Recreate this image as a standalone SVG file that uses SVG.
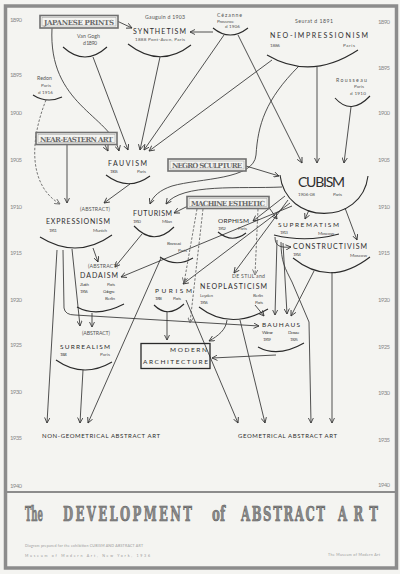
<svg xmlns="http://www.w3.org/2000/svg" width="400" height="574" viewBox="0 0 400 574">
<defs>
<marker id="a" viewBox="0 0 10 10" refX="9" refY="5" markerWidth="6" markerHeight="6" markerUnits="userSpaceOnUse" orient="auto"><path d="M0,0.5 L9,5 L0,9.5" fill="none" stroke="#333" stroke-width="1.4"/></marker>
<marker id="g" viewBox="0 0 10 10" refX="9" refY="5" markerWidth="6" markerHeight="6" markerUnits="userSpaceOnUse" orient="auto"><path d="M0,0.5 L9,5 L0,9.5" fill="none" stroke="#666" stroke-width="1.4"/></marker>
<style>
.bg{fill:#f4f4f1}
.frame{fill:none;stroke:#8c8c8c;stroke-width:3.5}
.yr{font-family:Lato,"Liberation Sans",sans-serif;font-size:6px;fill:#8a8a8a}
.n{font-family:Lato,"Liberation Sans",sans-serif;font-size:7px;fill:#2e2e2e}
.s{font-family:Lato,"Liberation Sans",sans-serif;font-size:4.6px;fill:#555}
.p{font-family:Lato,"Liberation Sans",sans-serif;font-size:5.2px;fill:#555}
.bx{fill:#f4f4f1;stroke:#707070;stroke-width:1.6}
.bi{fill:none;stroke:#9a9a9a;stroke-width:0.5}
.bt{font-family:"DejaVu Serif","Liberation Serif",serif;font-size:7px;fill:#6a6a6a;font-weight:bold}
.arc{fill:none;stroke:#2a2a2a;stroke-width:1.1}
.c{fill:none;stroke:#333;stroke-width:0.85;marker-end:url(#a)}
.d{fill:none;stroke:#555;stroke-width:0.8;stroke-dasharray:2.5,1.6;marker-end:url(#g)}
.t{font-family:"DejaVu Serif Condensed","DejaVu Serif","Liberation Serif",serif;font-size:13px;fill:#8a8a8a;stroke:#555;stroke-width:0.35;font-weight:bold}
.f{font-family:Lato,"Liberation Sans",sans-serif;font-size:3.6px;fill:#9a9a9a}
</style>
</defs>
<rect class="bg" x="0" y="0" width="400" height="574"/>
<rect class="frame" x="5.5" y="6" width="391" height="562"/>
<line x1="7" y1="492" x2="395" y2="492" stroke="#8c8c8c" stroke-width="2.2"/>

<g id="years">
<text class="yr" x="10" y="22" textLength="12">1890</text>
<text class="yr" x="10" y="77" textLength="12">1895</text>
<text class="yr" x="10" y="115" textLength="12">1900</text>
<text class="yr" x="10" y="162" textLength="12">1905</text>
<text class="yr" x="10" y="209" textLength="12">1910</text>
<text class="yr" x="10" y="255" textLength="12">1915</text>
<text class="yr" x="10" y="302" textLength="12">1920</text>
<text class="yr" x="10" y="347" textLength="12">1925</text>
<text class="yr" x="10" y="394" textLength="12">1930</text>
<text class="yr" x="10" y="440" textLength="12">1935</text>
<text class="yr" x="10" y="488" textLength="12">1940</text>
<text class="yr" x="378" y="24" textLength="12">1890</text>
<text class="yr" x="378" y="70" textLength="12">1895</text>
<text class="yr" x="378" y="115" textLength="12">1900</text>
<text class="yr" x="378" y="162" textLength="12">1905</text>
<text class="yr" x="378" y="209" textLength="12">1910</text>
<text class="yr" x="378" y="255" textLength="12">1915</text>
<text class="yr" x="378" y="302" textLength="12">1920</text>
<text class="yr" x="378" y="349" textLength="12">1925</text>
<text class="yr" x="378" y="395" textLength="12">1930</text>
<text class="yr" x="378" y="442" textLength="12">1935</text>
<text class="yr" x="378" y="487" textLength="12">1940</text>
</g>

<g id="connectors">
<path class="c" d="M117,21 L132,28"/>
<path class="c" d="M52,28 C48,105 110,115 119,151"/>
<path class="c" d="M93,57 L128,150"/>
<path class="c" d="M160,57 L140,150"/>
<path class="c" d="M213,32 L190,32"/>
<path class="c" d="M224,35 L144,150"/>
<path class="c" d="M238,35 L302,163"/>
<path class="c" d="M272,60 L149,151"/>
<path class="c" d="M299,66 C265,100 258,125 256,155 C254,180 200,178 172,186 C160,190 153,196 150,204"/>
<path class="c" d="M317,67 L317,163"/>
<path class="c" d="M351,107 L344,163"/>
<path class="d" d="M46,100 C30,140 28,185 60,204"/>
<path class="c" d="M67,145 L67,203"/>
<path class="c" d="M105,145 L108,151"/>
<path class="c" d="M246,166 L279,176"/>
<path class="c" d="M130,184 L104,203"/>
<path class="c" d="M282,187 C240,189 182,183 166,204"/>
<path class="c" d="M188,206 L174,213"/>
<path class="c" d="M93,248 L98,262"/>
<path class="c" d="M57,250 L47,423"/>
<path class="c" d="M63,250 L64,308 Q65,315 75,315 L259,326"/>
<path class="c" d="M72,249 L80,326"/>
<path class="c" d="M92,313 L92,327"/>
<path class="c" d="M83,370 L80,423"/>
<path class="c" d="M161,258 L88,423"/>
<path class="c" d="M186,300 L238,423"/>
<path class="c" d="M142,234 L115,267"/>
<path class="c" d="M292,206 L121,277"/>
<path class="c" d="M290,203 L183,284"/>
<path class="c" d="M288,200 L234,273"/>
<path class="c" d="M285,196 L253,221"/>
<path class="d" d="M197,209 L184,283"/>
<path class="d" d="M203,209 L190,323"/>
<path class="d" d="M258,209 L255,275"/>
<path class="c" d="M268,206 L277,219"/>
<path class="c" d="M309,210 L305,219"/>
<path class="c" d="M345,208 L357,240"/>
<path class="c" d="M275,237 C275,246 280,248 291,247"/>
<path class="c" d="M277,240 L275,315"/>
<path class="c" d="M283,243 L287,314"/>
<path class="c" d="M314,271 L291,316"/>
<path class="c" d="M281,242 C281,262 285,268 292,282 L309,322 L311,423"/>
<path class="c" d="M332,272 L332,423"/>
<path class="c" d="M255,305 L264,316"/>
<path class="c" d="M227,320 C226,330 218,336 209,341"/>
<path class="c" d="M240,320 L265,423"/>
<path class="c" d="M276,355 L212,358"/>
<path class="c" d="M167,312 L167,340"/>
</g>

<g id="japanese-prints"><rect class="bx" x="40" y="15.5" width="78" height="12.5"/><rect class="bi" x="42" y="17.5" width="74" height="8.5"/><text class="bt" x="44" y="25" textLength="70">JAPANESE PRINTS</text></g>
<g id="near-eastern-art"><rect class="bx" x="36" y="132.5" width="81" height="12"/><rect class="bi" x="38" y="134.5" width="77" height="8"/><text class="bt" x="40" y="141.8" textLength="73">NEAR-EASTERN ART</text></g>
<g id="negro-sculpture"><rect class="bx" x="168" y="159" width="78" height="12"/><rect class="bi" x="170" y="161" width="74" height="8"/><text class="bt" x="172" y="168.3" textLength="70">NEGRO SCULPTURE</text></g>
<g id="machine-esthetic"><rect class="bx" x="187" y="196.5" width="82" height="12"/><rect class="bi" x="189" y="198.5" width="78" height="8"/><text class="bt" x="191" y="205.8" textLength="74">MACHINE ESTHETIC</text></g>

<g id="van-gogh"><text class="p" x="77" y="38" textLength="23">Van Gogh</text><text class="p" x="83" y="44.5" textLength="14">d 1890</text><path class="arc" d="M63,47 Q85,67 107,47"/></g>
<g id="synthetism"><text class="p" x="145" y="19" textLength="40">Gauguin d 1903</text><text class="n" x="133" y="34" textLength="53">SYNTHETISM</text><text class="s" x="135" y="41" textLength="50">1888  Pont-Aven, Paris</text><path class="arc" d="M128,44 Q160,69 191,45"/></g>
<g id="cezanne"><text class="p" x="217" y="17" textLength="25">Cézanne</text><text class="s" x="217" y="22.5" textLength="17">Provence</text><text class="s" x="225" y="28" textLength="15">d 1906</text><path class="arc" d="M213,28 Q230,42 248,28"/></g>
<g id="neo-impressionism"><text class="p" x="295" y="23" textLength="38">Seurat d 1891</text><text class="n" x="270" y="38" textLength="98">NEO-IMPRESSIONISM</text><text class="s" x="270" y="47" textLength="10">1886</text><text class="s" x="343" y="47" textLength="12">Paris</text><path class="arc" d="M267,55 Q311,81 358,50"/></g>
<g id="rousseau"><text class="p" x="336" y="82" textLength="31">Rousseau</text><text class="s" x="354" y="88" textLength="10">Paris</text><text class="s" x="350" y="95" textLength="16">d 1910</text><path class="arc" d="M335,98 Q351,116 370,96"/></g>
<g id="redon"><text class="p" x="37" y="80" textLength="15">Redon</text><text class="s" x="41" y="87" textLength="10">Paris</text><text class="s" x="38" y="94" textLength="15">d 1916</text><path class="arc" d="M33,95 Q47,104 62,97"/></g>
<g id="fauvism"><text class="n" x="108" y="166" textLength="39">FAUVISM</text><text class="s" x="110" y="173" textLength="8">1905</text><text class="s" x="137" y="173" textLength="9">Paris</text><path class="arc" d="M106,175 Q128,192 150,176"/></g>
<g id="cubism"><text class="n" x="298" y="187" textLength="47" style="font-size:14px">CUBISM</text><text class="s" x="298" y="196" textLength="17">1906-08</text><text class="s" x="333" y="196" textLength="9">Paris</text><path class="arc" d="M280,175 C286,226 362,226 368,176"/></g>
<g id="expressionism"><text class="p" x="80" y="211" textLength="30">(ABSTRACT)</text><text class="n" x="46" y="224" textLength="64">EXPRESSIONISM</text><text class="s" x="49" y="232" textLength="8">1911</text><text class="s" x="93" y="232" textLength="14">Munich</text><path class="arc" d="M40,237 Q77,260 112,235"/></g>
<g id="futurism"><text class="n" x="133" y="216" textLength="39">FUTURISM</text><text class="s" x="133" y="223" textLength="8">1910</text><text class="s" x="162" y="223" textLength="10">Milan</text><path class="arc" d="M134,226 Q154,247 174,227"/></g>
<g id="orphism"><text class="n" x="218" y="223" textLength="31" style="font-size:6.5px">ORPHISM</text><text class="s" x="218" y="230" textLength="8">1912</text><text class="s" x="238" y="230" textLength="9">Paris</text><path class="arc" d="M218,232 Q232,244 246,233"/></g>
<g id="suprematism"><text class="n" x="278" y="227" textLength="61" style="font-size:6.5px">SUPREMATISM</text><text class="s" x="280" y="234" textLength="8">1913</text><text class="s" x="318" y="235" textLength="16">Moscow</text><path class="arc" d="M274,235 Q306,243 339,234"/></g>
<g id="constructivism"><text class="n" x="293" y="249" textLength="74">CONSTRUCTIVISM</text><text class="s" x="293" y="256" textLength="8">1914</text><text class="s" x="350" y="256.5" textLength="17">Moscow</text><path class="arc" d="M293,258 Q330,288 370,257"/></g>
<g id="brancusi"><text class="s" x="167" y="245" textLength="14">Brancusi</text><text class="s" x="178" y="252" textLength="9">Paris</text><path class="arc" d="M160,257 Q176,268 193,258"/></g>
<g id="dadaism"><text class="p" x="88" y="268" textLength="30">(ABSTRACT)</text><text class="n" x="80" y="278" textLength="38">DADAISM</text><text class="s" x="80" y="286" textLength="9">Zurich</text><text class="s" x="80" y="293" textLength="8">1916</text><text class="s" x="107" y="286" textLength="8">Paris</text><text class="s" x="103" y="293" textLength="12">Cologne</text><text class="s" x="105" y="300" textLength="10">Berlin</text><path class="arc" d="M77,307 Q97,318 124,304"/></g>
<g id="purism"><text class="n" x="155" y="293" textLength="37" style="font-size:6.5px">PURISM</text><text class="s" x="155" y="300" textLength="7">1918</text><text class="s" x="173" y="300" textLength="8">Paris</text><path class="arc" d="M154,305 Q168,319 184,304"/></g>
<g id="de-stijl"><text class="p" x="232" y="278" textLength="33">DE STIJL and</text><text class="n" x="200" y="289" textLength="67">NEOPLASTICISM</text><text class="s" x="200" y="297" textLength="13">Leyden</text><text class="s" x="200" y="304" textLength="8">1916</text><text class="s" x="253" y="297" textLength="10">Berlin</text><text class="s" x="255" y="304" textLength="8">Paris</text><path class="arc" d="M199,307 Q230,331 268,309"/></g>
<g id="bauhaus"><text class="n" x="262" y="327" textLength="38" style="font-size:6.5px">BAUHAUS</text><text class="s" x="262" y="334" textLength="11">Weimar</text><text class="s" x="263" y="341" textLength="8">1919</text><text class="s" x="288" y="334" textLength="11">Dessau</text><text class="s" x="290" y="341" textLength="8">1925</text><path class="arc" d="M258,347 Q278,358 304,343"/></g>
<g id="modern-architecture"><rect x="141" y="343.5" width="69" height="25" fill="none" stroke="#2a2a2a" stroke-width="1.3"/><text class="n" x="170" y="352" textLength="37" style="font-size:6.5px">MODERN</text><text class="n" x="143" y="364" textLength="65" style="font-size:6.5px">ARCHITECTURE</text></g>
<g id="surrealism"><text class="p" x="82" y="335" textLength="28">(ABSTRACT)</text><text class="n" x="60" y="349" textLength="50" style="font-size:6.5px">SURREALISM</text><text class="s" x="60" y="356" textLength="7">1924</text><text class="s" x="100" y="356" textLength="10">Paris</text><path class="arc" d="M56,360 Q83,379 112,362"/></g>
<g id="non-geometrical"><text class="n" x="42" y="438" textLength="118" style="font-size:6px">NON-GEOMETRICAL ABSTRACT ART</text></g>
<g id="geometrical"><text class="n" x="238" y="438" textLength="99" style="font-size:6px">GEOMETRICAL ABSTRACT ART</text></g>

<g id="title">
<g transform="translate(0,521) scale(1,1.5)">
<text class="t" x="25" y="0" textLength="18" lengthAdjust="spacingAndGlyphs">The</text>
<text class="t" x="63" y="0" textLength="129">DEVELOPMENT</text>
<text class="t" x="212" y="0" textLength="13" lengthAdjust="spacingAndGlyphs">of</text>
<text class="t" x="241" y="0" textLength="84">ABSTRACT</text>
<text class="t" x="338" y="0" textLength="40">ART</text>
</g>
<text class="f" x="25" y="547" textLength="118">Diagram prepared for the exhibition CUBISM AND ABSTRACT ART</text>
<text class="f" x="25" y="557" textLength="125">Museum of Modern Art, New York, 1936</text>
<text class="f" x="328" y="556" textLength="52">The Museum of Modern Art</text>
</g>
</svg>
